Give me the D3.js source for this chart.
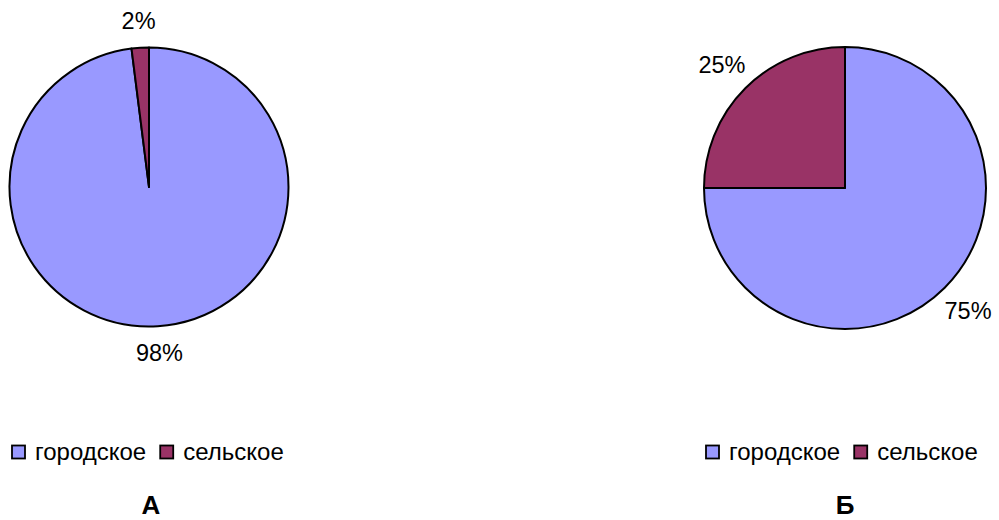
<!DOCTYPE html>
<html>
<head>
<meta charset="utf-8">
<script src="https://cdn.jsdelivr.net/npm/d3@7"></script>
<style>
  body { margin: 0; background: #fff; }
  svg { display: block; font-family: "Liberation Sans", Arial, sans-serif; }
</style>
</head>
<body>
<div id="chart"></div>
<script>
// Data
const categories = ['городское', 'сельское'];
const colors = ['#9999ff', '#993366'];
const valuesA = [98, 2];
const valuesB = [75, 25];
const titles = ['А', 'Б'];

const width = 999;
const height = 520;

const svg = d3.select('#chart')
    .append('svg')
    .attr('width', width)
    .attr('height', height);

const color = d3.scaleOrdinal().domain(categories).range(colors);

// one pie per panel
const panels = [
    { values: valuesA, title: titles[0], cx: 149, cy: 187, r: 139.5, labelR: 166, legendX: 12, titleX: 151 },
    { values: valuesB, title: titles[1], cx: 845, cy: 188, r: 141, labelR: 174, legendX: 706, titleX: 845 },
];

const pie = d3.pie().sort(null).value((d) => d.value);

panels.forEach((p) => {
    const rows = categories.map((c, i) => ({ name: c, value: p.values[i] }));
    const arcs = pie(rows);
    const arc = d3.arc().innerRadius(0).outerRadius(p.r);

    const g = svg.append('g').attr('transform', `translate(${p.cx}, ${p.cy})`);

    g.selectAll('path')
    .data(arcs)
    .join('path')
    .attr('d', arc)
    .attr('fill', (d) => color(d.data.name))
    .attr('stroke', '#000')
    .attr('stroke-width', 2)
    .attr('stroke-linejoin', 'round');

    // percent labels outside the pie
    g.selectAll('text.lbl')
    .data(arcs)
    .join('text')
    .attr('class', 'lbl')
    .attr('x', (d) => Math.sin((d.startAngle + d.endAngle) / 2) * p.labelR)
    .attr('y', (d) => -Math.cos((d.startAngle + d.endAngle) / 2) * p.labelR)
    .attr('text-anchor', 'middle')
    .attr('dominant-baseline', 'central')
    .attr('font-size', 23.5)
    .attr('fill', '#000')
    .text((d) => d.data.value + '%');

    // legend
    const legend = svg.append('g').attr('transform', `translate(${p.legendX}, 452)`);
    let x = 0;
    categories.forEach((c) => {
        legend.append('rect')
        .attr('x', x)
        .attr('y', -6.5)
        .attr('width', 13)
        .attr('height', 13)
        .attr('fill', color(c))
        .attr('stroke', '#000')
        .attr('stroke-width', 1.8);
        const t = legend.append('text')
        .attr('x', x + 23)
        .attr('y', 8)
        .attr('font-size', 24)
        .attr('fill', '#000')
        .text(c);
        x += 23 + t.node().getComputedTextLength() + 14;
    });

    // panel title
    svg.append('text')
    .attr('x', p.titleX)
    .attr('y', 514)
    .attr('text-anchor', 'middle')
    .attr('font-size', 26)
    .attr('font-weight', 'bold')
    .text(p.title);
});
</script>
</body>
</html>
